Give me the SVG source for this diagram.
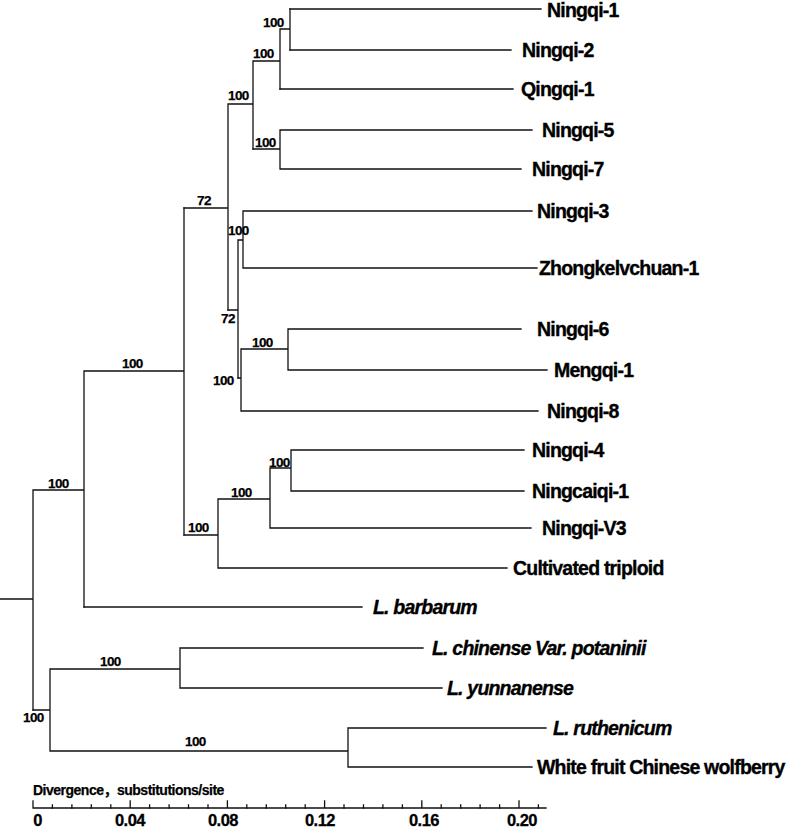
<svg xmlns="http://www.w3.org/2000/svg" width="789" height="832" viewBox="0 0 789 832">
<style>
.br{fill:none;stroke:#111;stroke-width:1.3;stroke-linecap:square}
.leaf{font-family:"Liberation Sans",Arial,sans-serif;font-weight:bold;font-size:19.5px;letter-spacing:-0.8px;fill:#000;stroke:#000;stroke-width:0.35}
.sp{font-style:italic}
.bs{font-family:"Liberation Sans",Arial,sans-serif;font-weight:bold;font-size:13.5px;letter-spacing:-0.6px;fill:#000;stroke:#000;stroke-width:0.25}
.ax{font-family:"Liberation Sans",Arial,sans-serif;font-weight:bold;font-size:16.5px;letter-spacing:-0.5px;fill:#000;text-anchor:middle;stroke:#000;stroke-width:0.3}
.ttl{font-family:"Liberation Sans","Noto Sans CJK SC",sans-serif;font-weight:bold;font-size:14px;letter-spacing:-0.5px;fill:#000;stroke:#000;stroke-width:0.25}
</style>
<rect width="789" height="832" fill="#fff"/>
<g id="connectors" class="br">
<path d="M0 599H33 M33 490V710 M33 490H84 M84 371V607 M84 371H184 M184 208V535"/>
<path d="M184 208H228 M228 104V310 M228 104H253 M253 61V149 M253 61H280 M280 29V89 M280 29H290 M290 9V50"/>
<path d="M290 9H541 M290 50H511 M280 89H513"/>
<path d="M253 149H280 M280 130V169 M280 130H532 M280 169H521"/>
<path d="M228 310H238 M238 240V378 M238 240H243 M243 211V268 M243 211H532 M243 268H537"/>
<path d="M238 378H241 M241 349V411 M241 349H288 M288 329V370 M288 329H521 M288 370H547 M241 411H538"/>
<path d="M184 535H218 M218 499V568 M218 499H270 M270 468V528 M270 468H291 M291 450V491 M291 450H524 M291 491H524 M270 528H531 M218 568H507"/>
<path d="M84 607H362"/>
<path d="M33 710H50 M50 669V751 M50 669H180 M180 648V688 M180 648H423 M180 688H442 M50 751H348 M348 728V767 M348 728H546 M348 767H532"/>
</g>
<g id="support">
<text class="bs" x="263" y="27">100</text>
<text class="bs" x="253" y="58">100</text>
<text class="bs" x="228" y="100">100</text>
<text class="bs" x="255" y="147">100</text>
<text class="bs" x="197" y="205">72</text>
<text class="bs" x="221" y="323">72</text>
<text class="bs" x="228" y="235">100</text>
<text class="bs" x="252" y="347">100</text>
<text class="bs" x="213" y="385">100</text>
<text class="bs" x="122" y="368">100</text>
<text class="bs" x="269" y="467">100</text>
<text class="bs" x="231" y="497">100</text>
<text class="bs" x="188" y="532">100</text>
<text class="bs" x="48" y="488">100</text>
<text class="bs" x="23" y="722">100</text>
<text class="bs" x="100" y="666">100</text>
<text class="bs" x="185" y="746">100</text>
</g>
<g id="n-ningqi1"><text class="leaf" x="547" y="17">Ningqi-1</text></g>
<g id="n-ningqi2"><text class="leaf" x="522" y="57">Ningqi-2</text></g>
<g id="n-qingqi1"><text class="leaf" x="521" y="96">Qingqi-1</text></g>
<g id="n-ningqi5"><text class="leaf" x="542" y="137">Ningqi-5</text></g>
<g id="n-ningqi7"><text class="leaf" x="532" y="176">Ningqi-7</text></g>
<g id="n-ningqi3"><text class="leaf" x="537" y="218">Ningqi-3</text></g>
<g id="n-zhongke"><text class="leaf" x="539" y="275">Zhongkelvchuan-1</text></g>
<g id="n-ningqi6"><text class="leaf" x="537" y="336">Ningqi-6</text></g>
<g id="n-mengqi1"><text class="leaf" x="554" y="377">Mengqi-1</text></g>
<g id="n-ningqi8"><text class="leaf" x="547" y="418">Ningqi-8</text></g>
<g id="n-ningqi4"><text class="leaf" x="532" y="457">Ningqi-4</text></g>
<g id="n-ningcaiqi1"><text class="leaf" x="532" y="498">Ningcaiqi-1</text></g>
<g id="n-ningqiv3"><text class="leaf" x="542" y="535">Ningqi-V3</text></g>
<g id="n-triploid"><text class="leaf" x="513" y="575">Cultivated triploid</text></g>
<g id="n-barbarum"><text class="leaf sp" x="373" y="614">L. barbarum</text></g>
<g id="n-chinense"><text class="leaf sp" x="432" y="655">L. chinense Var. potaninii</text></g>
<g id="n-yunnanense"><text class="leaf sp" x="447" y="695">L. yunnanense</text></g>
<g id="n-ruthenicum"><text class="leaf sp" x="553" y="735">L. ruthenicum</text></g>
<g id="n-whitefruit"><text class="leaf" x="537" y="774">White fruit Chinese wolfberry</text></g>
<g id="scale">
<text class="ttl" x="33" y="795">Divergence，substitutions/site</text>
<path class="br" d="M33 808H546 M33 801V808 M130.2 801V808 M227.4 801V808 M324.6 801V808 M421.8 801V808 M519 801V808"/>
<path class="br" d="M52.4 805V808 M71.9 805V808 M91.3 805V808 M110.8 805V808 M149.6 805V808 M169.1 805V808 M188.5 805V808 M208 805V808 M246.8 805V808 M266.3 805V808 M285.7 805V808 M305.2 805V808 M344 805V808 M363.5 805V808 M382.9 805V808 M402.4 805V808 M441.2 805V808 M460.7 805V808 M480.1 805V808 M499.6 805V808 M538.4 805V808"/>
<text class="ax" x="37.5" y="826">0</text>
<text class="ax" x="130" y="826">0.04</text>
<text class="ax" x="223" y="826">0.08</text>
<text class="ax" x="320" y="826">0.12</text>
<text class="ax" x="424" y="826">0.16</text>
<text class="ax" x="522" y="826">0.20</text>
</g>
</svg>
